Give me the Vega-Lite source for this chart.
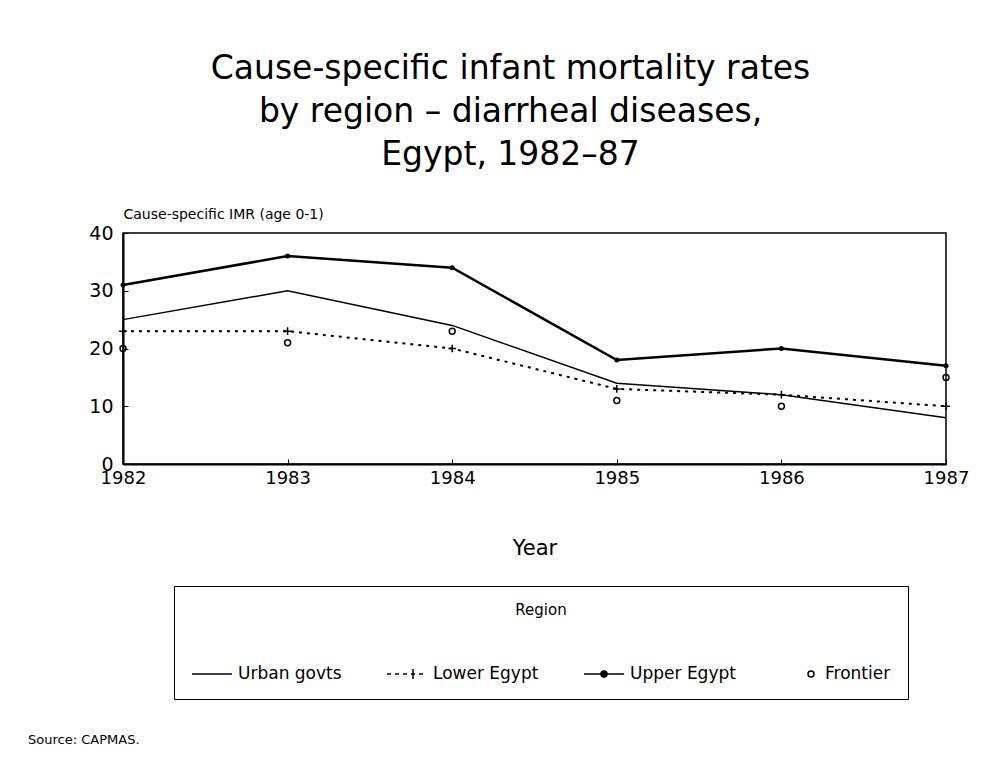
{
  "$schema": "https://vega.github.io/schema/vega-lite/v6.json",
  "background": "white",
  "padding": {"left": 28, "top": 52, "right": 10, "bottom": 10},
  "config": {
    "font": "DejaVu Sans",
    "view": {"stroke": "black", "strokeWidth": 1.5}
  },
  "title": {
    "text": "Source:  CAPMAS.",
    "orient": "bottom",
    "anchor": "start",
    "fontSize": 13,
    "fontWeight": "normal",
    "color": "black",
    "dx": -60,
    "offset": 34
  },
  "vconcat": [
    {
      "width": 823,
      "height": 231,
      "title": {
        "text": ["Cause-specific infant mortality rates", "by region – diarrheal diseases,", "Egypt, 1982–87"],
        "fontSize": 33,
        "fontWeight": "normal",
        "lineHeight": 43,
        "offset": 35,
        "anchor": "middle",
        "dx": -24,
        "color": "black"
      },
      "data": {
        "values": [
          {"year": 1982, "region": "Urban govts", "value": 25},
          {"year": 1983, "region": "Urban govts", "value": 30},
          {"year": 1984, "region": "Urban govts", "value": 24},
          {"year": 1985, "region": "Urban govts", "value": 14},
          {"year": 1986, "region": "Urban govts", "value": 12},
          {"year": 1987, "region": "Urban govts", "value": 8},
          {"year": 1982, "region": "Lower Egypt", "value": 23},
          {"year": 1983, "region": "Lower Egypt", "value": 23},
          {"year": 1984, "region": "Lower Egypt", "value": 20},
          {"year": 1985, "region": "Lower Egypt", "value": 13},
          {"year": 1986, "region": "Lower Egypt", "value": 12},
          {"year": 1987, "region": "Lower Egypt", "value": 10},
          {"year": 1982, "region": "Upper Egypt", "value": 31},
          {"year": 1983, "region": "Upper Egypt", "value": 36},
          {"year": 1984, "region": "Upper Egypt", "value": 34},
          {"year": 1985, "region": "Upper Egypt", "value": 18},
          {"year": 1986, "region": "Upper Egypt", "value": 20},
          {"year": 1987, "region": "Upper Egypt", "value": 17},
          {"year": 1982, "region": "Frontier", "value": 20},
          {"year": 1983, "region": "Frontier", "value": 21},
          {"year": 1984, "region": "Frontier", "value": 23},
          {"year": 1985, "region": "Frontier", "value": 11},
          {"year": 1986, "region": "Frontier", "value": 10},
          {"year": 1987, "region": "Frontier", "value": 15}
        ]
      },
      "encoding": {
        "x": {
          "field": "year",
          "type": "quantitative",
          "scale": {"domain": [1982, 1987], "nice": false, "zero": false},
          "axis": {
            "values": [1982, 1983, 1984, 1985, 1986, 1987],
            "format": "d",
            "title": "Year",
            "titleFontSize": 21,
            "titleFontWeight": "normal",
            "titleColor": "black",
            "titlePadding": 50,
            "labelFontSize": 18,
            "labelColor": "black",
            "labelPadding": 10,
            "labelFlush": false,
            "tickSize": -5,
            "tickColor": "black",
            "domainColor": "black",
            "domainWidth": 2,
            "grid": false
          }
        },
        "y": {
          "field": "value",
          "type": "quantitative",
          "scale": {"domain": [0, 40], "nice": false},
          "axis": {
            "values": [0, 10, 20, 30, 40],
            "title": "Cause-specific IMR (age 0-1)",
            "titleAngle": 0,
            "titleAlign": "left",
            "titleBaseline": "bottom",
            "titleX": 0,
            "titleY": -12,
            "titleFontSize": 14,
            "titleFontWeight": "normal",
            "titleColor": "black",
            "labelFontSize": 19,
            "labelColor": "black",
            "labelPadding": 15,
            "tickSize": -5,
            "tickColor": "black",
            "domainColor": "black",
            "domainWidth": 2,
            "grid": false
          }
        }
      },
      "layer": [
        {
          "transform": [{"filter": "datum.region === 'Urban govts'"}],
          "mark": {"type": "line", "color": "black", "strokeWidth": 1.5}
        },
        {
          "transform": [{"filter": "datum.region === 'Lower Egypt'"}],
          "mark": {"type": "line", "color": "black", "strokeWidth": 2, "strokeDash": [3, 5]}
        },
        {
          "transform": [{"filter": "datum.region === 'Upper Egypt'"}],
          "mark": {"type": "line", "color": "black", "strokeWidth": 2.5}
        },
        {
          "transform": [{"filter": "datum.region === 'Upper Egypt'"}],
          "mark": {"type": "point", "shape": "circle", "filled": true, "color": "black", "size": 25, "opacity": 1}
        },
        {
          "transform": [{"filter": "datum.region === 'Lower Egypt'"}],
          "mark": {"type": "point", "shape": "M-1,0H1M0,-1V1", "filled": false, "color": "black", "size": 60, "strokeWidth": 1.5, "opacity": 1}
        },
        {
          "transform": [{"filter": "datum.region === 'Frontier'"}],
          "mark": {"type": "point", "shape": "circle", "filled": false, "color": "black", "size": 35, "strokeWidth": 1.5, "opacity": 1}
        },
        {
          "transform": [{"filter": "datum.value < 0"}],
          "mark": {"type": "point", "filled": false, "color": "black", "strokeWidth": 1.5, "opacity": 1},
          "encoding": {
            "shape": {
              "field": "region",
              "type": "nominal",
              "scale": {
                "domain": ["Urban govts", "Lower Egypt", "Upper Egypt", "Frontier"],
                "range": [
                  "M-1,0H3",
                  "M-1,0H-0.6M-0.2,0H0.2M0.6,0H1M1.4,0H1.8M2.2,0H2.6M1.6,-0.5V0.5",
                  "M-1,0H3M1.3,0A0.3,0.3 0 1,1 0.7,0A0.3,0.3 0 1,1 1.3,0M1.15,0A0.15,0.15 0 1,1 0.85,0A0.15,0.15 0 1,1 1.15,0",
                  "M2.5,0A0.3,0.3 0 1,1 1.9,0A0.3,0.3 0 1,1 2.5,0"
                ]
              },
              "legend": {
                "title": "Region",
                "orient": "none",
                "legendX": 51,
                "legendY": 353,
                "direction": "horizontal",
                "titleAnchor": "middle",
                "titleFontSize": 15,
                "titleFontWeight": "normal",
                "titleColor": "black",
                "titlePadding": 45,
                "labelFontSize": 17,
                "labelColor": "black",
                "symbolSize": 400,
                "symbolStrokeWidth": 1.5,
                "symbolStrokeColor": "black",
                "labelOffset": 25,
                "columnPadding": 42,
                "padding": 17,
                "strokeColor": "black"
              }
            }
          }
        }
      ]
    }
  ]
}
